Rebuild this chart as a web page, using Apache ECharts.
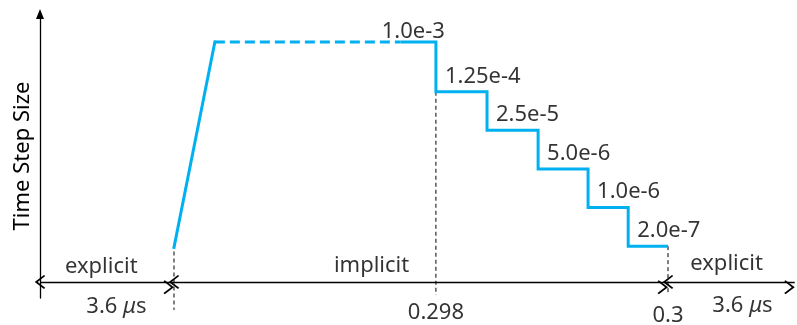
<!DOCTYPE html>
<html>
<head>
<meta charset="utf-8">
<script src="https://cdn.jsdelivr.net/npm/echarts@6/dist/echarts.min.js"></script>
<style>
  html, body { margin: 0; padding: 0; background: #fff; }
  #chart { width: 797px; height: 325px; }
</style>
</head>
<body>
<div id="chart"></div>
<script>
// Time step levels used by the implicit solver (log scale)
const stepLabels = ['1.0e-3', '1.25e-4', '2.5e-5', '5.0e-6', '1.0e-6', '2.0e-7'];
const stepSizes = [1.0e-3, 1.25e-4, 2.5e-5, 5.0e-6, 1.0e-6, 2.0e-7];
// Schematic time position (0-100) where each level ends
const stepEnds = [52.3, 59.05, 65.8, 72.4, 77.7, 82.96];

// Start-up ramp from the explicit step up to the first implicit level
const rampStart = [17.7, 1.9e-7];
const rampTop = [23.1, 1.0e-3];
const dashedEnd = 47.6;   // the long 1.0e-3 stretch is drawn dashed up to here

// Time axis: phase boundaries, ticks and annotations
const axisEnds = [0, 99.7];
const boundaryX = [17.7, 52.3, 82.96];
const boundaryLabels = ['', '0.298', '0.3'];
const guideTops = [1.6e-7, 1.25e-4, 2.0e-7];
const guideBottoms = [1.4e-8, 2.6e-8, 2.6e-8];
const phaseNames = ['explicit', 'implicit', 'explicit'];
const phaseX = [8.1, 43.8, 90.7];
const durationLabels = ['3.6 μs', '3.6 μs'];
const durationX = [10.1, 92.8];
const baseline = 4.5e-8;  // level at which the time axis is drawn

const FONT = '"Noto Sans", "DejaVu Sans", sans-serif';
const BLUE = '#00B0F0';
const INK = '#000';
const CHEVRON = 'path://M7,0 L14,8.8 L12.8,10 L7,2.8 L1.2,10 L0,8.8 Z';

const textStyle = { fontFamily: FONT, fontSize: 22, color: INK };

// label gaps from the time axis (px)
const phaseGap = [4, 5, 7];
const durationGap = [13, 12];
const boundaryGap = [0, 19, 22];

// step:'end' holds each level until the next x, then drops
const stepPoints = stepSizes.map((v, i) => [i === 0 ? dashedEnd : stepEnds[i - 1], v]);
stepPoints.push([stepEnds[stepEnds.length - 1], stepSizes[stepSizes.length - 1]]);

const stepLabelPoints = stepSizes.map((v, i) => {
  const first = i === 0;
  return {
    value: [first ? stepEnds[0] : stepEnds[i - 1], v],
    name: stepLabels[i],
    label: first
      ? { align: 'right', offset: [9, 1] }
      : { align: 'left', offset: [9, -4] }
  };
});

const axisSegments = [
  [axisEnds[0], boundaryX[0]],
  [boundaryX[0], boundaryX[2]],
  [boundaryX[2], axisEnds[1]]
];

const hiddenDot = { symbolSize: 1, itemStyle: { color: 'rgba(0,0,0,0)' }, silent: true, emphasis: { disabled: true } };

const guideSeries = boundaryX.map((x, i) => ({
  type: 'line',
  symbol: 'none',
  clip: false,
  silent: true,
  lineStyle: { color: INK, width: 1, type: [4, 3] },
  data: [[x, guideTops[i]], [x, guideBottoms[i]]],
  z: 1
}));

const option = {
  animation: false,
  grid: { left: 40, right: 0, top: 14, bottom: 27, containLabel: false, outerBoundsMode: 'none' },
  xAxis: { type: 'value', min: 0, max: 100, show: false },
  yAxis: {
    type: 'log', logBase: 10, min: 2.3e-8, max: 3.2e-3,
    name: 'Time Step Size', nameLocation: 'middle', nameGap: 6, nameRotate: 90,
    nameTextStyle: Object.assign({}, textStyle),
    axisLine: { show: true, lineStyle: { color: INK, width: 1.3 }, symbol: ['none', 'triangle'], symbolSize: [8, 10] },
    axisTick: { show: false },
    axisLabel: { show: false },
    splitLine: { show: false }
  },
  series: [
    ...guideSeries,
    {
      type: 'line', symbol: 'none', silent: true, z: 3,
      lineStyle: { color: BLUE, width: 3, cap: 'square', join: 'miter' },
      data: [rampStart, rampTop]
    },
    {
      type: 'line', symbol: 'none', silent: true, z: 3,
      lineStyle: { color: BLUE, width: 3, type: [10, 5] },
      data: [rampTop, [dashedEnd, rampTop[1]]]
    },
    {
      type: 'line', symbol: 'none', silent: true, z: 3, step: 'end',
      lineStyle: { color: BLUE, width: 3, join: 'miter' },
      data: stepPoints,
      markLine: {
        silent: true,
        symbol: [CHEVRON, CHEVRON],
        symbolSize: [14, 10.5],
        symbolOffset: [0, 5.25],
        label: { show: false },
        emphasis: { disabled: true },
        lineStyle: { color: INK, width: 1.4, type: 'solid' },
        data: axisSegments.map(([a, b]) => [{ coord: [a, baseline] }, { coord: [b, baseline] }])
      }
    },
    Object.assign({
      type: 'scatter', z: 5,
      label: Object.assign({ show: true, position: 'top', distance: 0, formatter: p => p.name }, textStyle),
      data: stepLabelPoints
    }, hiddenDot),
    Object.assign({
      type: 'scatter', z: 5, clip: false,
      label: Object.assign({ show: true, position: 'top', formatter: p => p.name }, textStyle),
      data: phaseNames.map((n, i) => ({ value: [phaseX[i], baseline], name: n, label: { distance: phaseGap[i] } }))
    }, hiddenDot),
    Object.assign({
      type: 'scatter', z: 5, clip: false,
      label: Object.assign({
        show: true, position: 'bottom',
        formatter: p => p.name.replace('μ', '{mu|μ}'),
        rich: { mu: Object.assign({ fontStyle: 'italic' }, textStyle) }
      }, textStyle),
      data: durationLabels.map((n, i) => ({ value: [durationX[i], baseline], name: n, label: { distance: durationGap[i] } }))
    }, hiddenDot),
    Object.assign({
      type: 'scatter', z: 5, clip: false,
      label: Object.assign({ show: true, position: 'bottom', formatter: p => p.name }, textStyle),
      data: boundaryX.map((x, i) => ({ value: [x, baseline], name: boundaryLabels[i], label: { distance: boundaryGap[i] } }))
        .filter(d => d.name !== '')
    }, hiddenDot)
  ]
};

const chart = echarts.init(document.getElementById('chart'));
chart.setOption(option);
</script>
</body>
</html>
